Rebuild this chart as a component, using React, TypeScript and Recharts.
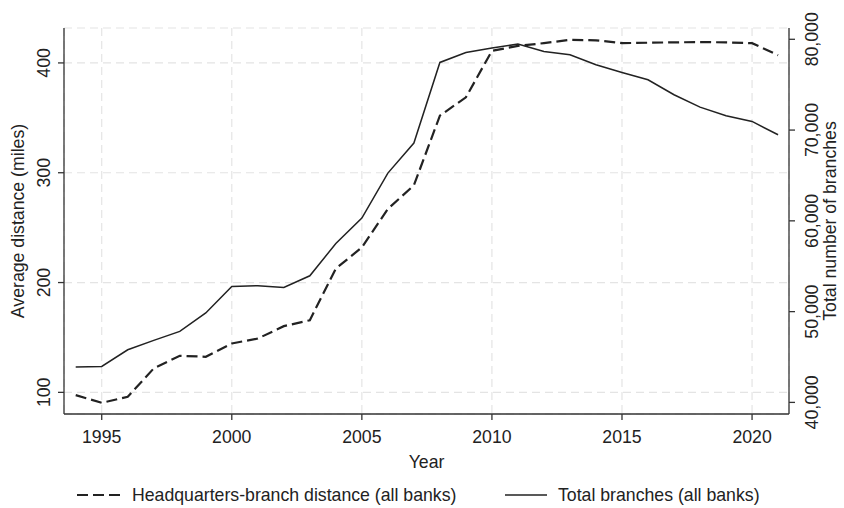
import React from 'react';
import { LineChart, Line, XAxis, YAxis, CartesianGrid, Legend } from 'recharts';

const years = [1994, 1995, 1996, 1997, 1998, 1999, 2000, 2001, 2002, 2003, 2004, 2005, 2006, 2007, 2008, 2009, 2010, 2011, 2012, 2013, 2014, 2015, 2016, 2017, 2018, 2019, 2020, 2021];
const distance = [97.5, 90.5, 96, 121.8, 133.3, 132.4, 144.5, 149, 160.3, 165.7, 212.7, 232, 267, 288.5, 352, 368.7, 411, 415.5, 418, 421, 420.6, 418, 418.4, 418.7, 419, 418.7, 418, 407];
const branches = [43900, 43965, 45800, 46830, 47820, 49850, 52780, 52850, 52670, 53950, 57500, 60300, 65260, 68570, 77450, 78550, 79030, 79470, 78660, 78290, 77190, 76340, 75540, 73890, 72530, 71570, 70950, 69480];
const xTicks = [1995, 2000, 2005, 2010, 2015, 2020];
const leftTicks = [100, 200, 300, 400];
const rightTicks = [40000, 50000, 60000, 70000, 80000];
const seriesNames = ['Headquarters-branch distance (all banks)', 'Total branches (all banks)'];

const data = years.map((y, i) => ({ year: y, distance: distance[i], branches: branches[i] }));

const FONT = '"Liberation Sans", Arial, Helvetica, sans-serif';
const FS = 17.7;
const INK = '#222';
const AXIS = '#333';

const fmt = (v: number) => v.toLocaleString('en-US');

const LeftTick = (props: any) => {
  const { y, payload } = props;
  return (
    <text transform={`translate(44, ${y}) rotate(-90)`} textAnchor="middle" dominantBaseline="central" fontFamily={FONT} fontSize={FS} fill={INK}>
      {payload.value}
    </text>
  );
};

const RightTick = (props: any) => {
  const { y, payload } = props;
  return (
    <text transform={`translate(812, ${y}) rotate(-90)`} textAnchor="middle" dominantBaseline="central" fontFamily={FONT} fontSize={FS} fill={INK}>
      {fmt(payload.value)}
    </text>
  );
};

const BottomTick = (props: any) => {
  const { x, y, payload } = props;
  return (
    <text x={x} y={y} dy="0.71em" textAnchor="middle" fontFamily={FONT} fontSize={FS} fill={INK}>
      {payload.value}
    </text>
  );
};

const LegendContent = () => (
  <div style={{ position: 'relative', width: 844, height: 34, fontFamily: FONT, fontSize: FS, color: INK }}>
    <svg width={50} height={34} style={{ position: 'absolute', left: 74, top: 0 }}>
      <line x1={3} x2={46} y1={21} y2={21} stroke={INK} strokeWidth={2.2} strokeDasharray="11 5" />
    </svg>
    <span style={{ position: 'absolute', left: 132, top: 10, whiteSpace: 'nowrap', lineHeight: '22px' }}>{seriesNames[0]}</span>
    <svg width={50} height={34} style={{ position: 'absolute', left: 502, top: 0 }}>
      <line x1={3} x2={45} y1={21} y2={21} stroke={INK} strokeWidth={1.5} />
    </svg>
    <span style={{ position: 'absolute', left: 558, top: 10, whiteSpace: 'nowrap', lineHeight: '22px' }}>{seriesNames[1]}</span>
  </div>
);

export default function App() {
  return (
    <div style={{ position: 'absolute', left: 0, top: 0, width: 844, height: 508, background: '#fff' }}>
      <LineChart width={844} height={508} data={data} margin={{ top: 28, right: 0, left: 0, bottom: 0 }}>
        <CartesianGrid yAxisId="left" stroke="#e4e4e4" strokeDasharray="8 5" strokeWidth={1.2} />
        <XAxis
          dataKey="year"
          type="number"
          domain={[1993.55, 2021.42]}
          ticks={xTicks}
          allowDataOverflow
          height={60}
          tickSize={6}
          tickMargin={10}
          tick={<BottomTick />}
          stroke={AXIS}
          strokeWidth={1.3}
          label={{
            content: (p: any) => {
              const vb = p.viewBox;
              return (
                <text x={vb.x + vb.width / 2} y={vb.y + 48} textAnchor="middle" dominantBaseline="central" fontFamily={FONT} fontSize={FS} fill={INK}>
                  Year
                </text>
              );
            },
          }}
        />
        <YAxis
          yAxisId="left"
          orientation="left"
          width={64}
          domain={[80.3, 431.8]}
          ticks={leftTicks}
          allowDataOverflow
          tickSize={6}
          tickMargin={2}
          tick={<LeftTick />}
          stroke={AXIS}
          strokeWidth={1.3}
          label={{
            content: (p: any) => {
              const vb = p.viewBox;
              const cy = vb.y + vb.height / 2;
              return (
                <text transform={`translate(18, ${cy}) rotate(-90)`} textAnchor="middle" dominantBaseline="central" fontFamily={FONT} fontSize={FS} fill={INK}>
                  Average distance (miles)
                </text>
              );
            },
          }}
        />
        <YAxis
          yAxisId="right"
          orientation="right"
          width={55}
          domain={[38722, 81244]}
          ticks={rightTicks}
          allowDataOverflow
          tickSize={6}
          tickMargin={2}
          tick={<RightTick />}
          stroke={AXIS}
          strokeWidth={1.3}
          label={{
            content: (p: any) => {
              const vb = p.viewBox;
              const cy = vb.y + vb.height / 2;
              return (
                <text transform={`translate(830, ${cy}) rotate(-90)`} textAnchor="middle" dominantBaseline="central" fontFamily={FONT} fontSize={FS} fill={INK}>
                  Total number of branches
                </text>
              );
            },
          }}
        />
        <Legend verticalAlign="bottom" align="left" content={<LegendContent />} wrapperStyle={{ left: 0, width: 844, height: 34 }} />
        <Line yAxisId="left" dataKey="distance" name={seriesNames[0]} stroke={INK} strokeWidth={2.2} strokeDasharray="11 5" dot={false} isAnimationActive={false} />
        <Line yAxisId="right" dataKey="branches" name={seriesNames[1]} stroke={INK} strokeWidth={1.5} dot={false} isAnimationActive={false} />
      </LineChart>
    </div>
  );
}
